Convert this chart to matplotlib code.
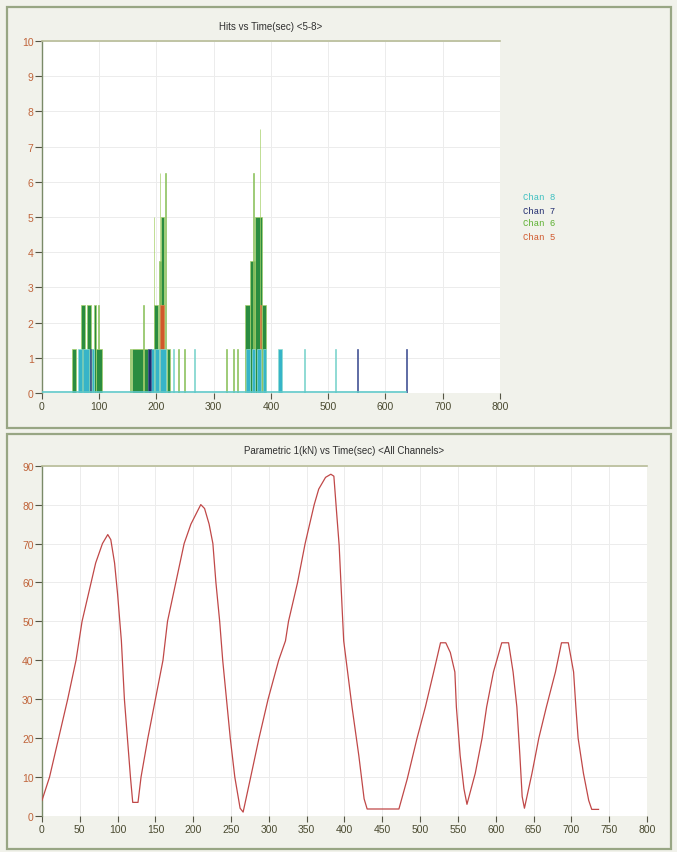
import matplotlib
matplotlib.use('Agg')
import matplotlib.pyplot as plt
from matplotlib.patches import Rectangle
import numpy as np

# hit spans per channel: start (s), end (s), hits height
ch6_start = [52, 69, 78, 86, 91, 97, 95, 154, 157, 177, 178, 191, 195, 195, 205, 206, 208, 215, 218,
             238, 248, 322, 333, 340, 354, 364, 369, 372, 380, 384]
ch6_end = [60, 75, 86, 91, 95, 99, 104, 156, 176, 178.5, 187, 195, 196, 202, 212, 207, 213, 216.5, 224,
           240, 250, 324, 335, 342, 364, 372, 370.5, 384, 381.5, 392]
ch6_h = [1.25, 2.5, 2.5, 1.25, 2.5, 2.5, 1.25, 1.25, 1.25, 2.5, 1.25, 1.25, 5, 2.5, 3.75, 6.25, 5, 6.25, 1.25,
         1.25, 1.25, 1.25, 1.25, 1.25, 2.5, 3.75, 6.25, 5, 7.5, 2.5]

ch5_start = [207, 380]
ch5_end = [214, 382]
ch5_h = [2.5, 2.5]

ch8_start = [63, 72, 88, 190, 198, 207, 228, 266, 356, 366, 375, 386, 413, 458, 511]
ch8_end = [70, 82, 91, 196, 204, 217, 230, 268, 364, 372, 383, 391, 420, 460, 513]
ch8_h = [1.25] * 15

ch7_start = [84, 186, 550, 635]
ch7_end = [86, 190, 552, 637]
ch7_h = [1.25, 1.25, 1.25, 1.25]

chan_names = ['Chan 8', 'Chan 7', 'Chan 6', 'Chan 5']
chan_colors = ['#3cbfc0', '#1f2a6e', '#5cb030', '#d0582c']

# parametric 1 (kN)
p_time = [0, 10, 22, 34, 45, 53, 65, 71, 80, 87, 91, 96, 100, 105, 109, 113, 117, 120, 127, 131, 140, 150,
          160, 166, 177, 188, 197, 210, 215, 221, 226, 230, 235, 239, 244, 249, 255, 262, 266, 276, 287,
          299, 313, 322, 326, 338, 348, 360, 366, 375, 382, 386, 390, 393, 397, 399, 410, 419, 426, 430,
          472, 483, 496, 507, 518, 527, 534, 540, 546, 548, 553, 558, 562, 573, 582, 588, 597, 608, 617,
          623, 628, 632, 635, 638, 648, 657, 667, 679, 687, 696, 703, 706, 709, 716, 723, 727, 736]
p_val = [4, 10, 20, 30, 40, 50, 60, 65, 70, 72.3, 71, 65, 57, 45, 30, 20, 10, 3.5, 3.5, 10, 20, 30,
         40, 50, 60, 70, 75, 80, 79, 75, 70, 60, 50, 40, 30, 20, 10, 2, 1, 10, 20,
         30, 40, 45, 50, 60, 70, 80, 84, 87, 87.8, 87.3, 77, 69.5, 53, 45, 28, 15.5, 4.4, 1.8,
         1.8, 9.5, 20, 28, 37, 44.5, 44.5, 42, 37, 28, 15.5, 7, 3, 11, 20, 28, 37, 44.5, 44.5,
         37, 28, 15.5, 5, 2, 11, 20, 28, 37, 44.5, 44.5, 37, 28, 20, 11, 4, 1.7, 1.7]

BG = '#f1f2eb'
FRAME = '#98a684'
YLAB = '#c0643a'
XLAB = '#4a4a30'

fig = plt.figure(figsize=(6.77, 8.53), dpi=100)
fig.patch.set_facecolor(BG)
plt.rcParams['font.family'] = ['Liberation Sans', 'DejaVu Sans']


def frame(x0, y0, x1, y1):
    W, H = 677.0, 853.0
    r = Rectangle((x0 / W, 1 - y1 / H), (x1 - x0) / W, (y1 - y0) / H, transform=fig.transFigure,
                  fill=False, edgecolor=FRAME, linewidth=1.6, zorder=0)
    fig.patches.append(r)


frame(7, 8, 671, 429)
frame(7, 435, 671, 850)


def style(ax, xmax_ticks, xstep, ymax, ystep):
    ax.set_facecolor('white')
    for s in ['right', 'bottom']:
        ax.spines[s].set_visible(False)
    ax.spines['left'].set_color('#7a8a68')
    ax.spines['left'].set_linewidth(1.0)
    ax.spines['top'].set_color('#b8bc98')
    ax.spines['top'].set_linewidth(1.2)
    ax.set_xticks(np.arange(0, xmax_ticks + 1, xstep))
    ax.set_yticks(np.arange(0, ymax + 1, ystep))
    ax.tick_params(axis='y', direction='out', length=5, width=0.8, color='#555545', labelcolor=YLAB,
                   labelsize=7.5, pad=1)
    ax.tick_params(axis='x', direction='out', length=4, width=0.8, color='#555545', labelcolor=XLAB,
                   labelsize=7.5, pad=2)
    ax.grid(True, color='#ececec', linewidth=0.7)
    ax.set_axisbelow(True)


# ---- top chart: hits ----
ax1 = fig.add_axes([0.062, 0.538, 0.6765, 0.4127])
style(ax1, 800, 100, 10, 1)
ax1.set_xlim(0, 800)
ax1.set_ylim(0, 10)

def draw_bars(starts, ends, heights, color, edge):
    s = np.array(starts, dtype=float)
    w = np.array(ends, dtype=float) - s
    ax1.bar(s, heights, width=w, align='edge', color=color, edgecolor=edge, linewidth=0.5, zorder=3)

draw_bars(ch6_start, ch6_end, ch6_h, '#2a8c40', '#a6d06a')
draw_bars(ch5_start, ch5_end, ch5_h, chan_colors[3], '#e08a50')
draw_bars(ch8_start, ch8_end, ch8_h, '#36b4c8', '#8fdcd0')
draw_bars(ch7_start, ch7_end, ch7_h, chan_colors[1], '#5060a0')
ax1.hlines(0.03, 0, max(ch7_end), color='#60c8c8', linewidth=1.2, zorder=4)
ax1.set_title('Hits vs Time(sec) <5-8>', fontsize=7, color='#303030', pad=9)

for i, (name, c) in enumerate(zip(chan_names, chan_colors)):
    fig.text(523 / 677, 1 - (198 + 13 * i) / 853, name, color=c, fontsize=6.5,
             family=['Liberation Mono', 'DejaVu Sans Mono'], va='center', ha='left')

# ---- bottom chart: parametric ----
ax2 = fig.add_axes([0.062, 0.0422, 0.8936, 0.4107])
style(ax2, 800, 50, 90, 10)
ax2.set_xlim(0, 800)
ax2.set_ylim(0, 90)
ax2.plot(p_time, p_val, color='#c04848', linewidth=0.9, zorder=3)
ax2.set_title('Parametric 1(kN) vs Time(sec) <All Channels>', fontsize=7, color='#303030', pad=9)

plt.savefig('out.png', dpi=100, facecolor=BG)
